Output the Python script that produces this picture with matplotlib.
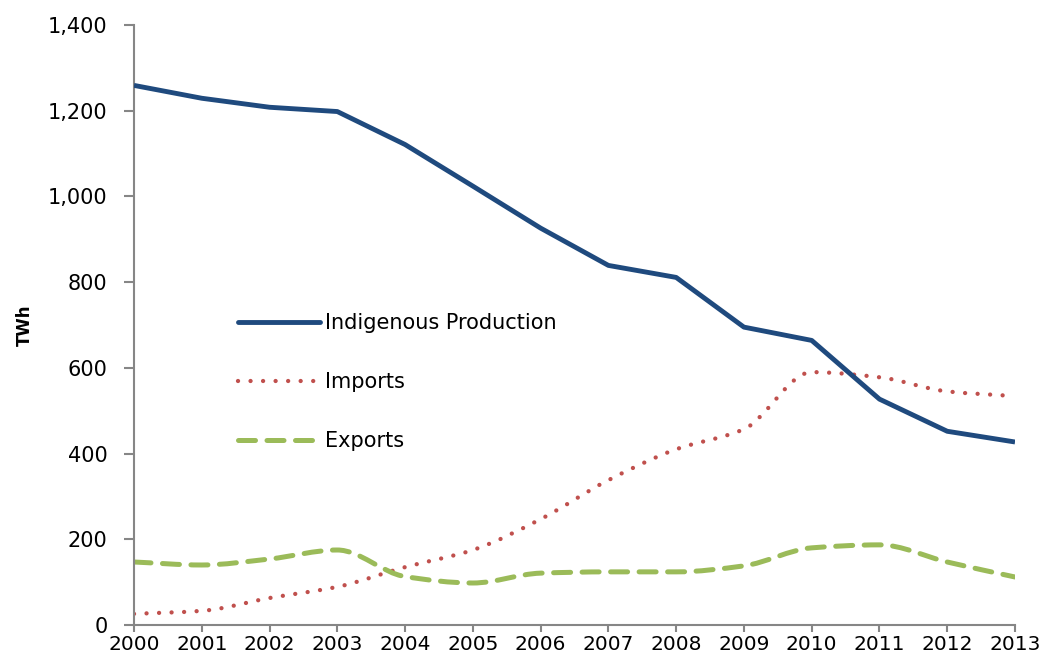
import numpy as np
import matplotlib
matplotlib.use("Agg")
import matplotlib.pyplot as plt
from matplotlib.path import Path
from matplotlib.patches import PathPatch
from matplotlib.lines import Line2D
from matplotlib.ticker import FuncFormatter

plt.rcParams['font.family'] = ['DejaVu Sans']

years = [2000, 2001, 2002, 2003, 2004, 2005, 2006, 2007, 2008, 2009, 2010, 2011, 2012, 2013]
production = [1259, 1229, 1208, 1198, 1121, 1024, 926, 839, 811, 695, 664, 527, 452, 427]
imports = [26, 33, 63, 89, 135, 175, 247, 338, 410, 457, 590, 578, 545, 534]
exports = [147, 140, 154, 175, 113, 98, 121, 124, 124, 138, 180, 187, 147, 112]

blue = '#1F4A7E'
red = '#C0504D'
green = '#9BBB59'


def smooth_path(x, y):
    # smoothed line drawn as bezier segments, flat at peaks/troughs
    x = np.asarray(x, float)
    y = np.asarray(y, float)
    n = len(x)
    h = np.diff(x)
    d = np.diff(y) / h
    m = np.zeros(n)
    m[0], m[-1] = d[0], d[-1]
    for i in range(1, n - 1):
        if d[i - 1] * d[i] > 0:
            m[i] = 2 / (1 / d[i - 1] + 1 / d[i])
    verts = [(x[0], y[0])]
    codes = [Path.MOVETO]
    for i in range(n - 1):
        c1 = (x[i] + h[i] / 3, y[i] + m[i] * h[i] / 3)
        c2 = (x[i + 1] - h[i] / 3, y[i + 1] - m[i + 1] * h[i] / 3)
        verts += [c1, c2, (x[i + 1], y[i + 1])]
        codes += [Path.CURVE4] * 3
    return Path(verts, codes)


fig = plt.figure(figsize=(10.42, 6.57), dpi=100)
ax = fig.add_axes([0.1286, 0.0487, 0.8455, 0.9133])

ax.plot(years, production, color=blue, lw=3.5, solid_joinstyle='round',
        solid_capstyle='butt', zorder=3)

imp_style = (0, (0.01, 2.9))
exp_style = (0, (3.4, 2.3))
ax.add_patch(PathPatch(smooth_path(years, imports), fill=False, edgecolor=red,
                       lw=3.1, linestyle=imp_style, capstyle='round', zorder=2))
ax.add_patch(PathPatch(smooth_path(years, exports), fill=False, edgecolor=green,
                       lw=3.6, linestyle=exp_style, capstyle='round', zorder=2))

ax.set_xlim(2000, 2013)
ax.set_ylim(0, 1400)
ax.set_xticks(years)
ax.set_yticks(range(0, 1401, 200))
ax.yaxis.set_major_formatter(FuncFormatter(lambda v, p: f'{int(v):,}'))

for s in ['top', 'right']:
    ax.spines[s].set_visible(False)
for s in ['left', 'bottom']:
    ax.spines[s].set_color('#868686')
    ax.spines[s].set_linewidth(1.5)
ax.tick_params(axis='both', direction='out', width=1.5, color='#868686',
               labelsize=15, labelcolor='black')
ax.tick_params(axis='x', length=5, pad=2.5, labelsize=14.5)
ax.tick_params(axis='y', length=7, pad=12)
ax.set_ylabel('TWh', fontsize=12, fontweight='bold')
ax.yaxis.set_label_coords(-0.114, 0.5)

handles = [
    Line2D([], [], color=blue, lw=3.5, solid_capstyle='round'),
    Line2D([], [], color=red, lw=3.1, linestyle=imp_style, dash_capstyle='round'),
    Line2D([], [], color=green, lw=3.6, linestyle=exp_style, dash_capstyle='round'),
]
ax.legend(handles, ['Indigenous Production', 'Imports', 'Exports'],
          loc='upper left', bbox_to_anchor=(0.118, 0.52), frameon=False,
          fontsize=15, handlelength=3.95, handletextpad=0.25, labelspacing=1.87,
          borderpad=0, borderaxespad=0)

fig.savefig('out.png', dpi=100)
